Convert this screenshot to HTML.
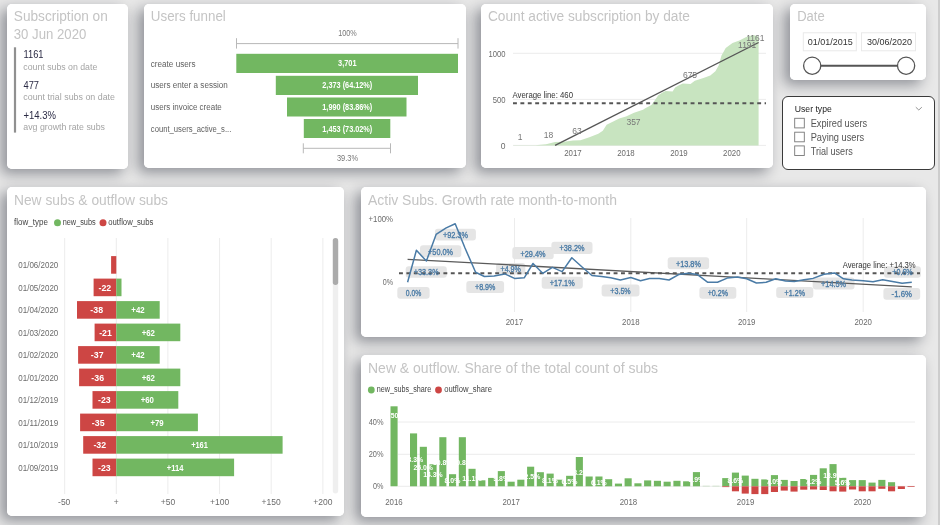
<!DOCTYPE html>
<html><head><meta charset="utf-8"><title>Dashboard</title>
<style>
html,body{margin:0;padding:0}
body{width:940px;height:525px;background:#e8e8e8;position:relative;overflow:hidden;font-family:"Liberation Sans",sans-serif}
.sh{position:absolute;background:#fff;border-radius:5px;box-shadow:-5.5px 5px 14px rgba(8,12,28,.39)}
.card{position:absolute;background:#fff;border-radius:5px}
.slicer{position:absolute;background:#fff;border-radius:6px;border:1.8px solid #3a3a3a;box-sizing:border-box}
svg text{font-family:"Liberation Sans",sans-serif}
</style></head><body>
<div class="sh" style="left:7px;top:3.6px;width:121px;height:165.4px"></div><div class="sh" style="left:144px;top:3.6px;width:322px;height:164.4px"></div><div class="sh" style="left:481.4px;top:3.6px;width:291.6px;height:164.4px"></div><div class="sh" style="left:790px;top:3.6px;width:136px;height:76.4px"></div><div class="sh" style="left:7px;top:187px;width:337px;height:329px"></div><div class="sh" style="left:361px;top:187px;width:564.8px;height:150px"></div><div class="sh" style="left:361px;top:355px;width:564.8px;height:161.5px"></div><div class="card" style="left:7px;top:3.6px;width:121px;height:165.4px"></div><div class="card" style="left:144px;top:3.6px;width:322px;height:164.4px"></div><div class="card" style="left:481.4px;top:3.6px;width:291.6px;height:164.4px"></div><div class="card" style="left:790px;top:3.6px;width:136px;height:76.4px"></div><div class="card" style="left:7px;top:187px;width:337px;height:329px"></div><div class="card" style="left:361px;top:187px;width:564.8px;height:150px"></div><div class="card" style="left:361px;top:355px;width:564.8px;height:161.5px"></div><div style="position:absolute;left:937.6px;top:0;width:2.4px;height:525px;background:#cdcdcd"></div><div class="slicer" style="left:782px;top:96px;width:153px;height:74px"></div>
<svg width="940" height="525" viewBox="0 0 940 525" style="position:absolute;left:0;top:0;filter:blur(0.3px)"><text x="13.8" y="20.8" font-size="14" fill="#c4c4c4" text-anchor="start" font-weight="normal" textLength="94" lengthAdjust="spacingAndGlyphs">Subscription on</text>
<text x="13.8" y="38.8" font-size="14" fill="#c4c4c4" text-anchor="start" font-weight="normal" textLength="72.5" lengthAdjust="spacingAndGlyphs">30 Jun 2020</text>
<rect x="13.9" y="47.3" width="2.2" height="85.3" fill="#909090"/>
<text x="23.5" y="58.1" font-size="10" fill="#2a2a44" text-anchor="start" font-weight="normal" textLength="20" lengthAdjust="spacingAndGlyphs">1161</text>
<text x="23.3" y="70.2" font-size="9.5" fill="#a4a4a4" text-anchor="start" font-weight="normal" textLength="74" lengthAdjust="spacingAndGlyphs">count subs on date</text>
<text x="23.5" y="88.6" font-size="10" fill="#2a2a44" text-anchor="start" font-weight="normal" textLength="15.5" lengthAdjust="spacingAndGlyphs">477</text>
<text x="23.3" y="100.2" font-size="9.5" fill="#a4a4a4" text-anchor="start" font-weight="normal" textLength="91.7" lengthAdjust="spacingAndGlyphs">count trial subs on date</text>
<text x="23.5" y="118.6" font-size="10" fill="#2a2a44" text-anchor="start" font-weight="normal" textLength="32.5" lengthAdjust="spacingAndGlyphs">+14.3%</text>
<text x="23.3" y="130.2" font-size="9.5" fill="#a4a4a4" text-anchor="start" font-weight="normal" textLength="81.7" lengthAdjust="spacingAndGlyphs">avg growth rate subs</text>
<text x="150.8" y="20.8" font-size="14" fill="#c4c4c4" text-anchor="start" font-weight="normal" textLength="75" lengthAdjust="spacingAndGlyphs">Users funnel</text>
<text x="150.8" y="67.4" font-size="8.5" fill="#606060" text-anchor="start" font-weight="normal" textLength="44.7" lengthAdjust="spacingAndGlyphs">create users</text>
<text x="150.8" y="87.9" font-size="8.5" fill="#606060" text-anchor="start" font-weight="normal" textLength="77" lengthAdjust="spacingAndGlyphs">users enter a session</text>
<text x="150.8" y="110.1" font-size="8.5" fill="#606060" text-anchor="start" font-weight="normal" textLength="71" lengthAdjust="spacingAndGlyphs">users invoice create</text>
<text x="150.8" y="132.4" font-size="8.5" fill="#606060" text-anchor="start" font-weight="normal" textLength="80.5" lengthAdjust="spacingAndGlyphs">count_users_active_s...</text>
<rect x="236.3" y="53.8" width="221.7" height="19.2" fill="#72b761"/>
<text x="347.3" y="66.4" font-size="9" fill="#fff" text-anchor="middle" font-weight="bold" textLength="18.5" lengthAdjust="spacingAndGlyphs">3,701</text>
<rect x="275.8" y="75.8" width="142.2" height="19.2" fill="#72b761"/>
<text x="347.3" y="88.4" font-size="9" fill="#fff" text-anchor="middle" font-weight="bold" textLength="50" lengthAdjust="spacingAndGlyphs">2,373 (64.12%)</text>
<rect x="287" y="97.5" width="119.5" height="19.0" fill="#72b761"/>
<text x="347.3" y="110.0" font-size="9" fill="#fff" text-anchor="middle" font-weight="bold" textLength="50" lengthAdjust="spacingAndGlyphs">1,990 (83.86%)</text>
<rect x="303.8" y="119" width="86.5" height="19.0" fill="#72b761"/>
<text x="347.3" y="131.5" font-size="9" fill="#fff" text-anchor="middle" font-weight="bold" textLength="50" lengthAdjust="spacingAndGlyphs">1,453 (73.02%)</text>
<path d="M236.5 38.2V48.6M236.5 43.6H458M458 38.2V48.6" stroke="#b8b8b8" stroke-width="1" fill="none"/>
<text x="347.5" y="36.4" font-size="8.5" fill="#777" text-anchor="middle" font-weight="normal" textLength="18.5" lengthAdjust="spacingAndGlyphs">100%</text>
<path d="M303.3 143.3V153.3M303.3 148.3H390.5M390.5 143.3V153.3" stroke="#b8b8b8" stroke-width="1" fill="none"/>
<text x="347.5" y="161.4" font-size="8.5" fill="#777" text-anchor="middle" font-weight="normal" textLength="21" lengthAdjust="spacingAndGlyphs">39.3%</text>
<text x="487.9" y="20.8" font-size="14" fill="#c4c4c4" text-anchor="start" font-weight="normal" textLength="202" lengthAdjust="spacingAndGlyphs">Count active subscription by date</text>
<line x1="513" x2="766" y1="53.3" y2="53.3" stroke="#ececec" stroke-width="1"/>
<line x1="513" x2="766" y1="99.4" y2="99.4" stroke="#ececec" stroke-width="1"/>
<line x1="513" x2="766" y1="145.4" y2="145.4" stroke="#ececec" stroke-width="1"/>
<text x="505.5" y="56.6" font-size="8.5" fill="#6b6b6b" text-anchor="end" font-weight="normal" textLength="17" lengthAdjust="spacingAndGlyphs">1000</text>
<text x="505.5" y="102.6" font-size="8.5" fill="#6b6b6b" text-anchor="end" font-weight="normal" textLength="12.8" lengthAdjust="spacingAndGlyphs">500</text>
<text x="505.5" y="148.6" font-size="8.5" fill="#6b6b6b" text-anchor="end" font-weight="normal">0</text>
<path d="M513.4,145.3 L535,145.2 L546,144.3 L555.1,142 L564,141.7 L573,140.5 L580.4,140.2 L589.4,137.2 L598.3,133.7 L602.8,130.7 L606.6,124.7 L613.2,121.5 L619.2,118.5 L626,116.4 L634,112.8 L643,109.8 L645.3,108.2 L651.4,105.1 L655.2,99.8 L658.3,95.2 L662.1,92.8 L665.7,91 L672.6,91.5 L675.1,87.5 L679,85.2 L682.8,83.6 L690.5,84.1 L694.8,80.7 L703.4,78.1 L710.3,75.5 L715.4,71.3 L718.8,65.3 L721.4,55.8 L725.7,48.1 L732.5,43 L739.4,40.4 L746.2,37 L753.1,34.9 L758.6,36.5 L758.6,145.4 L513.4,145.4Z" fill="#c8e4c0"/>
<line x1="555.1" y1="145.3" x2="758.6" y2="42.5" stroke="#555" stroke-width="1.4"/>
<line x1="513" y1="103.3" x2="766" y2="103.3" stroke="#555" stroke-width="2.0" stroke-dasharray="3.9 3.5"/>
<text x="512.5" y="98.2" font-size="9.5" fill="#333" text-anchor="start" font-weight="normal" textLength="60.5" lengthAdjust="spacingAndGlyphs">Average line: 460</text>
<text x="520.0" y="139.7" font-size="8.5" fill="#777" text-anchor="middle" font-weight="normal">1</text>
<text x="548.6" y="138.3" font-size="8.5" fill="#777" text-anchor="middle" font-weight="normal">18</text>
<text x="576.9" y="134.4" font-size="8.5" fill="#777" text-anchor="middle" font-weight="normal">63</text>
<text x="633.5" y="125.4" font-size="8.5" fill="#777" text-anchor="middle" font-weight="normal">357</text>
<text x="690.0" y="78.4" font-size="8.5" fill="#777" text-anchor="middle" font-weight="normal">675</text>
<text x="747.2" y="48.0" font-size="8.5" fill="#777" text-anchor="middle" font-weight="normal">1191</text>
<text x="755.3" y="41.1" font-size="8.5" fill="#777" text-anchor="middle" font-weight="normal">1161</text>
<text x="573.0" y="156.4" font-size="8.5" fill="#6b6b6b" text-anchor="middle" font-weight="normal" textLength="17.5" lengthAdjust="spacingAndGlyphs">2017</text>
<text x="626.0" y="156.4" font-size="8.5" fill="#6b6b6b" text-anchor="middle" font-weight="normal" textLength="17.5" lengthAdjust="spacingAndGlyphs">2018</text>
<text x="679.0" y="156.4" font-size="8.5" fill="#6b6b6b" text-anchor="middle" font-weight="normal" textLength="17.5" lengthAdjust="spacingAndGlyphs">2019</text>
<text x="731.8" y="156.4" font-size="8.5" fill="#6b6b6b" text-anchor="middle" font-weight="normal" textLength="17.5" lengthAdjust="spacingAndGlyphs">2020</text>
<text x="797.2" y="20.8" font-size="14" fill="#c4c4c4" text-anchor="start" font-weight="normal" textLength="27.5" lengthAdjust="spacingAndGlyphs">Date</text>
<rect x="803.3" y="32.8" width="53" height="18" fill="#fff" stroke="#e9e9e9" stroke-width="1"/>
<rect x="861.5" y="32.8" width="54" height="18" fill="#fff" stroke="#e9e9e9" stroke-width="1"/>
<text x="807.7" y="45.2" font-size="9" fill="#333" text-anchor="start" font-weight="normal" textLength="45" lengthAdjust="spacingAndGlyphs">01/01/2015</text>
<text x="866.9" y="45.2" font-size="9" fill="#333" text-anchor="start" font-weight="normal" textLength="45" lengthAdjust="spacingAndGlyphs">30/06/2020</text>
<line x1="812" y1="65.7" x2="906" y2="65.7" stroke="#555" stroke-width="1.9"/>
<circle cx="812.2" cy="65.7" r="8.6" fill="#fff" stroke="#555" stroke-width="1.3"/>
<circle cx="906.1" cy="65.7" r="8.6" fill="#fff" stroke="#555" stroke-width="1.3"/>
<text x="794.8" y="111.7" font-size="9" fill="#222" text-anchor="start" font-weight="normal" textLength="37" lengthAdjust="spacingAndGlyphs">User type</text>
<path d="M915.8 107.2 L918.8 110 L921.8 107.2" stroke="#888" stroke-width="0.9" fill="none"/>
<rect x="794.7" y="118.3" width="9.6" height="9.6" fill="#fff" stroke="#777" stroke-width="0.9"/>
<text x="810.7" y="127.2" font-size="10" fill="#555" text-anchor="start" font-weight="normal" textLength="56.5" lengthAdjust="spacingAndGlyphs">Expired users</text>
<rect x="794.7" y="132.2" width="9.6" height="9.6" fill="#fff" stroke="#777" stroke-width="0.9"/>
<text x="810.7" y="141.1" font-size="10" fill="#555" text-anchor="start" font-weight="normal" textLength="53.5" lengthAdjust="spacingAndGlyphs">Paying users</text>
<rect x="794.7" y="145.9" width="9.6" height="9.6" fill="#fff" stroke="#777" stroke-width="0.9"/>
<text x="810.7" y="154.8" font-size="10" fill="#555" text-anchor="start" font-weight="normal" textLength="42" lengthAdjust="spacingAndGlyphs">Trial users</text>
<text x="14.0" y="205.2" font-size="14" fill="#c4c4c4" text-anchor="start" font-weight="normal" textLength="154" lengthAdjust="spacingAndGlyphs">New subs &amp; outflow subs</text>
<text x="14.1" y="225.4" font-size="8.5" fill="#444" text-anchor="start" font-weight="normal" textLength="33.8" lengthAdjust="spacingAndGlyphs">flow_type</text>
<circle cx="57.5" cy="222.7" r="3.5" fill="#72b761"/>
<text x="62.7" y="225.4" font-size="8.5" fill="#444" text-anchor="start" font-weight="normal" textLength="33" lengthAdjust="spacingAndGlyphs">new_subs</text>
<circle cx="103" cy="222.7" r="3.5" fill="#cd4644"/>
<text x="108.3" y="225.4" font-size="8.5" fill="#444" text-anchor="start" font-weight="normal" textLength="45" lengthAdjust="spacingAndGlyphs">outflow_subs</text>
<line x1="64.7" x2="64.7" y1="238" y2="494" stroke="#ececec" stroke-width="1"/>
<text x="64.2" y="505.4" font-size="8.5" fill="#6b6b6b" text-anchor="middle" font-weight="normal">-50</text>
<line x1="116.3" x2="116.3" y1="238" y2="494" stroke="#ececec" stroke-width="1"/>
<text x="116.3" y="505.4" font-size="8.5" fill="#6b6b6b" text-anchor="middle" font-weight="normal">+</text>
<line x1="167.9" x2="167.9" y1="238" y2="494" stroke="#ececec" stroke-width="1"/>
<text x="167.9" y="505.4" font-size="8.5" fill="#6b6b6b" text-anchor="middle" font-weight="normal">+50</text>
<line x1="219.6" x2="219.6" y1="238" y2="494" stroke="#ececec" stroke-width="1"/>
<text x="219.6" y="505.4" font-size="8.5" fill="#6b6b6b" text-anchor="middle" font-weight="normal">+100</text>
<line x1="271.2" x2="271.2" y1="238" y2="494" stroke="#ececec" stroke-width="1"/>
<text x="271.2" y="505.4" font-size="8.5" fill="#6b6b6b" text-anchor="middle" font-weight="normal">+150</text>
<line x1="322.9" x2="322.9" y1="238" y2="494" stroke="#ececec" stroke-width="1"/>
<text x="322.9" y="505.4" font-size="8.5" fill="#6b6b6b" text-anchor="middle" font-weight="normal">+200</text>
<text x="18.3" y="268.1" font-size="9" fill="#6b6b6b" text-anchor="start" font-weight="normal" textLength="40" lengthAdjust="spacingAndGlyphs">01/06/2020</text>
<rect x="111.1" y="256.1" width="5.2" height="17.6" fill="#cd4644"/>
<text x="18.3" y="290.6" font-size="9" fill="#6b6b6b" text-anchor="start" font-weight="normal" textLength="40" lengthAdjust="spacingAndGlyphs">01/05/2020</text>
<rect x="93.6" y="278.6" width="22.7" height="17.6" fill="#cd4644"/>
<text x="104.9" y="290.8" font-size="9" fill="#fff" text-anchor="middle" font-weight="bold" textLength="12.7" lengthAdjust="spacingAndGlyphs">-22</text>
<rect x="116.3" y="278.6" width="5.2" height="17.6" fill="#72b761"/>
<text x="18.3" y="313.1" font-size="9" fill="#6b6b6b" text-anchor="start" font-weight="normal" textLength="40" lengthAdjust="spacingAndGlyphs">01/04/2020</text>
<rect x="77.0" y="301.1" width="39.3" height="17.6" fill="#cd4644"/>
<text x="96.7" y="313.3" font-size="9" fill="#fff" text-anchor="middle" font-weight="bold" textLength="12.7" lengthAdjust="spacingAndGlyphs">-38</text>
<rect x="116.3" y="301.1" width="43.4" height="17.6" fill="#72b761"/>
<text x="138.0" y="313.3" font-size="9" fill="#fff" text-anchor="middle" font-weight="bold" textLength="13.3" lengthAdjust="spacingAndGlyphs">+42</text>
<text x="18.3" y="335.6" font-size="9" fill="#6b6b6b" text-anchor="start" font-weight="normal" textLength="40" lengthAdjust="spacingAndGlyphs">01/03/2020</text>
<rect x="94.6" y="323.6" width="21.7" height="17.6" fill="#cd4644"/>
<text x="105.5" y="335.8" font-size="9" fill="#fff" text-anchor="middle" font-weight="bold" textLength="12.7" lengthAdjust="spacingAndGlyphs">-21</text>
<rect x="116.3" y="323.6" width="64.0" height="17.6" fill="#72b761"/>
<text x="148.3" y="335.8" font-size="9" fill="#fff" text-anchor="middle" font-weight="bold" textLength="13.3" lengthAdjust="spacingAndGlyphs">+62</text>
<text x="18.3" y="358.1" font-size="9" fill="#6b6b6b" text-anchor="start" font-weight="normal" textLength="40" lengthAdjust="spacingAndGlyphs">01/02/2020</text>
<rect x="78.1" y="346.1" width="38.2" height="17.6" fill="#cd4644"/>
<text x="97.2" y="358.3" font-size="9" fill="#fff" text-anchor="middle" font-weight="bold" textLength="12.7" lengthAdjust="spacingAndGlyphs">-37</text>
<rect x="116.3" y="346.1" width="43.4" height="17.6" fill="#72b761"/>
<text x="138.0" y="358.3" font-size="9" fill="#fff" text-anchor="middle" font-weight="bold" textLength="13.3" lengthAdjust="spacingAndGlyphs">+42</text>
<text x="18.3" y="380.6" font-size="9" fill="#6b6b6b" text-anchor="start" font-weight="normal" textLength="40" lengthAdjust="spacingAndGlyphs">01/01/2020</text>
<rect x="79.1" y="368.6" width="37.2" height="17.6" fill="#cd4644"/>
<text x="97.7" y="380.8" font-size="9" fill="#fff" text-anchor="middle" font-weight="bold" textLength="12.7" lengthAdjust="spacingAndGlyphs">-36</text>
<rect x="116.3" y="368.6" width="64.0" height="17.6" fill="#72b761"/>
<text x="148.3" y="380.8" font-size="9" fill="#fff" text-anchor="middle" font-weight="bold" textLength="13.3" lengthAdjust="spacingAndGlyphs">+62</text>
<text x="18.3" y="403.1" font-size="9" fill="#6b6b6b" text-anchor="start" font-weight="normal" textLength="40" lengthAdjust="spacingAndGlyphs">01/12/2019</text>
<rect x="92.5" y="391.1" width="23.8" height="17.6" fill="#cd4644"/>
<text x="104.4" y="403.3" font-size="9" fill="#fff" text-anchor="middle" font-weight="bold" textLength="12.7" lengthAdjust="spacingAndGlyphs">-23</text>
<rect x="116.3" y="391.1" width="62.0" height="17.6" fill="#72b761"/>
<text x="147.3" y="403.3" font-size="9" fill="#fff" text-anchor="middle" font-weight="bold" textLength="13.3" lengthAdjust="spacingAndGlyphs">+60</text>
<text x="18.3" y="425.6" font-size="9" fill="#6b6b6b" text-anchor="start" font-weight="normal" textLength="40" lengthAdjust="spacingAndGlyphs">01/11/2019</text>
<rect x="80.1" y="413.6" width="36.2" height="17.6" fill="#cd4644"/>
<text x="98.2" y="425.8" font-size="9" fill="#fff" text-anchor="middle" font-weight="bold" textLength="12.7" lengthAdjust="spacingAndGlyphs">-35</text>
<rect x="116.3" y="413.6" width="81.6" height="17.6" fill="#72b761"/>
<text x="157.1" y="425.8" font-size="9" fill="#fff" text-anchor="middle" font-weight="bold" textLength="13.3" lengthAdjust="spacingAndGlyphs">+79</text>
<text x="18.3" y="448.1" font-size="9" fill="#6b6b6b" text-anchor="start" font-weight="normal" textLength="40" lengthAdjust="spacingAndGlyphs">01/10/2019</text>
<rect x="83.2" y="436.1" width="33.1" height="17.6" fill="#cd4644"/>
<text x="99.8" y="448.3" font-size="9" fill="#fff" text-anchor="middle" font-weight="bold" textLength="12.7" lengthAdjust="spacingAndGlyphs">-32</text>
<rect x="116.3" y="436.1" width="166.3" height="17.6" fill="#72b761"/>
<text x="199.5" y="448.3" font-size="9" fill="#fff" text-anchor="middle" font-weight="bold" textLength="16.7" lengthAdjust="spacingAndGlyphs">+161</text>
<text x="18.3" y="470.6" font-size="9" fill="#6b6b6b" text-anchor="start" font-weight="normal" textLength="40" lengthAdjust="spacingAndGlyphs">01/09/2019</text>
<rect x="92.5" y="458.6" width="23.8" height="17.6" fill="#cd4644"/>
<text x="104.4" y="470.8" font-size="9" fill="#fff" text-anchor="middle" font-weight="bold" textLength="12.7" lengthAdjust="spacingAndGlyphs">-23</text>
<rect x="116.3" y="458.6" width="117.8" height="17.6" fill="#72b761"/>
<text x="175.2" y="470.8" font-size="9" fill="#fff" text-anchor="middle" font-weight="bold" textLength="16.7" lengthAdjust="spacingAndGlyphs">+114</text>
<rect x="332.8" y="238" width="5.4" height="255.5" rx="2.7" fill="#efefef"/>
<rect x="332.8" y="238" width="5.4" height="47" rx="2.7" fill="#ababab"/>
<text x="368.0" y="204.7" font-size="14" fill="#c4c4c4" text-anchor="start" font-weight="normal" textLength="249" lengthAdjust="spacingAndGlyphs">Activ Subs. Growth rate month-to-month</text>
<text x="393.0" y="222.0" font-size="8.5" fill="#6b6b6b" text-anchor="end" font-weight="normal" textLength="24.5" lengthAdjust="spacingAndGlyphs">+100%</text>
<text x="393.0" y="284.5" font-size="8.5" fill="#6b6b6b" text-anchor="end" font-weight="normal" textLength="10.3" lengthAdjust="spacingAndGlyphs">0%</text>
<line x1="514.5" x2="514.5" y1="218" y2="312" stroke="#ececec" stroke-width="1"/>
<text x="514.5" y="324.6" font-size="8.5" fill="#6b6b6b" text-anchor="middle" font-weight="normal" textLength="17.5" lengthAdjust="spacingAndGlyphs">2017</text>
<line x1="630.8" x2="630.8" y1="218" y2="312" stroke="#ececec" stroke-width="1"/>
<text x="630.8" y="324.6" font-size="8.5" fill="#6b6b6b" text-anchor="middle" font-weight="normal" textLength="17.5" lengthAdjust="spacingAndGlyphs">2018</text>
<line x1="746.7" x2="746.7" y1="218" y2="312" stroke="#ececec" stroke-width="1"/>
<text x="746.7" y="324.6" font-size="8.5" fill="#6b6b6b" text-anchor="middle" font-weight="normal" textLength="17.5" lengthAdjust="spacingAndGlyphs">2019</text>
<line x1="863.2" x2="863.2" y1="218" y2="312" stroke="#ececec" stroke-width="1"/>
<text x="863.2" y="324.6" font-size="8.5" fill="#6b6b6b" text-anchor="middle" font-weight="normal" textLength="17.5" lengthAdjust="spacingAndGlyphs">2020</text>
<rect x="397.3" y="287.0" width="32.3" height="11.7" rx="3" fill="#e5e5e5"/>
<rect x="405.7" y="266.3" width="41.1" height="11.4" rx="3" fill="#e5e5e5"/>
<rect x="420.0" y="245.2" width="41.3" height="12.0" rx="3" fill="#e5e5e5"/>
<rect x="434.9" y="228.7" width="41.0" height="11.7" rx="3" fill="#e5e5e5"/>
<rect x="466.3" y="280.9" width="37.8" height="12.0" rx="3" fill="#e5e5e5"/>
<rect x="496.1" y="263.0" width="29.2" height="11.5" rx="3" fill="#e5e5e5"/>
<rect x="512.3" y="246.9" width="41.4" height="12.3" rx="3" fill="#e5e5e5"/>
<rect x="551.4" y="241.7" width="41.1" height="12.3" rx="3" fill="#e5e5e5"/>
<rect x="541.7" y="276.7" width="41.1" height="12.0" rx="3" fill="#e5e5e5"/>
<rect x="601.6" y="284.4" width="37.9" height="12.0" rx="3" fill="#e5e5e5"/>
<rect x="667.7" y="257.2" width="41.4" height="12.0" rx="3" fill="#e5e5e5"/>
<rect x="699.4" y="287.0" width="36.9" height="11.7" rx="3" fill="#e5e5e5"/>
<rect x="776.2" y="287.0" width="37.1" height="11.0" rx="3" fill="#e5e5e5"/>
<rect x="812.7" y="277.6" width="41.8" height="12.0" rx="3" fill="#e5e5e5"/>
<rect x="884.0" y="266.3" width="36.9" height="11.4" rx="3" fill="#e5e5e5"/>
<rect x="883.4" y="288.0" width="36.8" height="11.7" rx="3" fill="#e5e5e5"/>
<line x1="407.6" y1="259.3" x2="911.8" y2="286.9" stroke="#5a5a5a" stroke-width="1.3"/>
<line x1="399" y1="273.3" x2="920" y2="273.3" stroke="#555" stroke-width="2.0" stroke-dasharray="3.9 3.5"/>
<polyline points="407.6,282.3 416.4,250.3 426.4,261 436.1,234.4 446.2,227.9 455.2,223.7 465,248 475.6,272.3 484.4,276.5 494.1,275.9 504.8,273.9 514.5,278.4 524.2,277.8 533,263.5 542.7,273.3 552.4,267.4 562.1,271.6 571.8,257.7 581.5,266.5 591.9,275.5 601.6,276.5 610.7,277.8 620.4,280 630.8,277.5 640.5,280.7 649.5,278.4 659.2,278.4 669,280 678.7,274.6 688.4,273.3 697.5,274.6 707.8,282.3 717.5,282.3 727.2,278.1 737.6,277.1 746.7,278.8 756.4,283 766.1,282.3 775.8,278.8 785.5,281 794.3,281.4 804,279.7 813,278.4 824,274.3 834.5,272.9 843.5,278.8 851.9,280 863.2,280.7 873,281.7 882.7,279.7 892.4,281.4 902.1,283.3 911.8,282.3" fill="none" stroke="#4a7ba6" stroke-width="1.5" stroke-linejoin="round"/>
<text x="413.5" y="296.3" font-size="9" fill="#4a7ba6" text-anchor="middle" font-weight="normal" textLength="15.5" lengthAdjust="spacingAndGlyphs" stroke="#4a7ba6" stroke-width="0.35">0.0%</text>
<text x="426.2" y="275.4" font-size="9" fill="#4a7ba6" text-anchor="middle" font-weight="normal" textLength="25" lengthAdjust="spacingAndGlyphs" stroke="#4a7ba6" stroke-width="0.35">+33.3%</text>
<text x="440.6" y="254.6" font-size="9" fill="#4a7ba6" text-anchor="middle" font-weight="normal" textLength="25" lengthAdjust="spacingAndGlyphs" stroke="#4a7ba6" stroke-width="0.35">+50.0%</text>
<text x="455.4" y="238.0" font-size="9" fill="#4a7ba6" text-anchor="middle" font-weight="normal" textLength="25" lengthAdjust="spacingAndGlyphs" stroke="#4a7ba6" stroke-width="0.35">+92.3%</text>
<text x="485.2" y="290.3" font-size="9" fill="#4a7ba6" text-anchor="middle" font-weight="normal" textLength="20.4" lengthAdjust="spacingAndGlyphs" stroke="#4a7ba6" stroke-width="0.35">+8.9%</text>
<text x="510.7" y="272.2" font-size="9" fill="#4a7ba6" text-anchor="middle" font-weight="normal" textLength="20.4" lengthAdjust="spacingAndGlyphs" stroke="#4a7ba6" stroke-width="0.35">+4.9%</text>
<text x="533.0" y="256.5" font-size="9" fill="#4a7ba6" text-anchor="middle" font-weight="normal" textLength="25" lengthAdjust="spacingAndGlyphs" stroke="#4a7ba6" stroke-width="0.35">+29.4%</text>
<text x="572.0" y="251.3" font-size="9" fill="#4a7ba6" text-anchor="middle" font-weight="normal" textLength="25" lengthAdjust="spacingAndGlyphs" stroke="#4a7ba6" stroke-width="0.35">+38.2%</text>
<text x="562.2" y="286.1" font-size="9" fill="#4a7ba6" text-anchor="middle" font-weight="normal" textLength="25" lengthAdjust="spacingAndGlyphs" stroke="#4a7ba6" stroke-width="0.35">+17.1%</text>
<text x="620.5" y="293.8" font-size="9" fill="#4a7ba6" text-anchor="middle" font-weight="normal" textLength="20.4" lengthAdjust="spacingAndGlyphs" stroke="#4a7ba6" stroke-width="0.35">+3.5%</text>
<text x="688.4" y="266.6" font-size="9" fill="#4a7ba6" text-anchor="middle" font-weight="normal" textLength="25" lengthAdjust="spacingAndGlyphs" stroke="#4a7ba6" stroke-width="0.35">+13.8%</text>
<text x="717.9" y="296.3" font-size="9" fill="#4a7ba6" text-anchor="middle" font-weight="normal" textLength="20.4" lengthAdjust="spacingAndGlyphs" stroke="#4a7ba6" stroke-width="0.35">+0.2%</text>
<text x="794.8" y="295.9" font-size="9" fill="#4a7ba6" text-anchor="middle" font-weight="normal" textLength="20.4" lengthAdjust="spacingAndGlyphs" stroke="#4a7ba6" stroke-width="0.35">+1.2%</text>
<text x="833.6" y="287.0" font-size="9" fill="#4a7ba6" text-anchor="middle" font-weight="normal" textLength="25" lengthAdjust="spacingAndGlyphs" stroke="#4a7ba6" stroke-width="0.35">+14.5%</text>
<text x="902.5" y="275.4" font-size="9" fill="#4a7ba6" text-anchor="middle" font-weight="normal" textLength="20.4" lengthAdjust="spacingAndGlyphs" stroke="#4a7ba6" stroke-width="0.35">+0.6%</text>
<text x="901.8" y="297.3" font-size="9" fill="#4a7ba6" text-anchor="middle" font-weight="normal" textLength="20.4" lengthAdjust="spacingAndGlyphs" stroke="#4a7ba6" stroke-width="0.35">-1.6%</text>
<text x="915.7" y="267.7" font-size="9.5" fill="#333" text-anchor="end" font-weight="normal" textLength="73" lengthAdjust="spacingAndGlyphs">Average line: +14.3%</text>
<text x="368.0" y="372.5" font-size="14" fill="#c4c4c4" text-anchor="start" font-weight="normal" textLength="290" lengthAdjust="spacingAndGlyphs">New &amp; outflow. Share of the total count of subs</text>
<circle cx="371.3" cy="390" r="3.4" fill="#72b761"/>
<text x="376.7" y="392.3" font-size="8.5" fill="#444" text-anchor="start" font-weight="normal" textLength="54.6" lengthAdjust="spacingAndGlyphs">new_subs_share</text>
<circle cx="438.5" cy="390" r="3.4" fill="#cd4644"/>
<text x="444.2" y="392.3" font-size="8.5" fill="#444" text-anchor="start" font-weight="normal" textLength="47.7" lengthAdjust="spacingAndGlyphs">outflow_share</text>
<line x1="398" x2="915" y1="422" y2="422" stroke="#ececec" stroke-width="1"/>
<text x="383.5" y="424.9" font-size="8.5" fill="#6b6b6b" text-anchor="end" font-weight="normal" textLength="14.8" lengthAdjust="spacingAndGlyphs">40%</text>
<line x1="398" x2="915" y1="454.3" y2="454.3" stroke="#ececec" stroke-width="1"/>
<text x="383.5" y="457.2" font-size="8.5" fill="#6b6b6b" text-anchor="end" font-weight="normal" textLength="14.8" lengthAdjust="spacingAndGlyphs">20%</text>
<line x1="398" x2="915" y1="486.3" y2="486.3" stroke="#ececec" stroke-width="1"/>
<text x="383.5" y="489.2" font-size="8.5" fill="#6b6b6b" text-anchor="end" font-weight="normal" textLength="10.5" lengthAdjust="spacingAndGlyphs">0%</text>
<text x="393.9" y="505.4" font-size="8.5" fill="#6b6b6b" text-anchor="middle" font-weight="normal" textLength="17.5" lengthAdjust="spacingAndGlyphs">2016</text>
<text x="511.2" y="505.4" font-size="8.5" fill="#6b6b6b" text-anchor="middle" font-weight="normal" textLength="17.5" lengthAdjust="spacingAndGlyphs">2017</text>
<text x="628.4" y="505.4" font-size="8.5" fill="#6b6b6b" text-anchor="middle" font-weight="normal" textLength="17.5" lengthAdjust="spacingAndGlyphs">2018</text>
<text x="745.6" y="505.4" font-size="8.5" fill="#6b6b6b" text-anchor="middle" font-weight="normal" textLength="17.5" lengthAdjust="spacingAndGlyphs">2019</text>
<text x="862.4" y="505.4" font-size="8.5" fill="#6b6b6b" text-anchor="middle" font-weight="normal" textLength="17.5" lengthAdjust="spacingAndGlyphs">2020</text>
<rect x="390.5" y="406.3" width="7.1" height="80.0" fill="#72b761"/>
<rect x="410.0" y="433.4" width="7.1" height="52.9" fill="#72b761"/>
<rect x="419.8" y="446.8" width="7.1" height="39.5" fill="#72b761"/>
<rect x="429.5" y="464.3" width="7.1" height="22.0" fill="#72b761"/>
<rect x="439.3" y="437.2" width="7.1" height="49.1" fill="#72b761"/>
<rect x="449.0" y="474.2" width="7.1" height="12.1" fill="#72b761"/>
<rect x="458.8" y="437.2" width="7.1" height="49.1" fill="#72b761"/>
<rect x="468.5" y="468.8" width="7.1" height="17.5" fill="#72b761"/>
<rect x="478.3" y="480.3" width="7.1" height="6.0" fill="#72b761"/>
<rect x="488.1" y="477.9" width="7.1" height="8.4" fill="#72b761"/>
<rect x="497.8" y="471.1" width="7.1" height="15.2" fill="#72b761"/>
<rect x="507.6" y="481.7" width="7.1" height="4.6" fill="#72b761"/>
<rect x="517.3" y="479.7" width="7.1" height="6.6" fill="#72b761"/>
<rect x="527.1" y="466.7" width="7.1" height="19.6" fill="#72b761"/>
<rect x="536.8" y="472.2" width="7.1" height="14.1" fill="#72b761"/>
<rect x="546.6" y="473.6" width="7.1" height="12.7" fill="#72b761"/>
<rect x="556.3" y="479.7" width="7.1" height="6.6" fill="#72b761"/>
<rect x="566.1" y="475.8" width="7.1" height="10.5" fill="#72b761"/>
<rect x="575.8" y="457.0" width="7.1" height="29.3" fill="#72b761"/>
<rect x="585.6" y="476.5" width="7.1" height="9.8" fill="#72b761"/>
<rect x="595.4" y="476.5" width="7.1" height="9.8" fill="#72b761"/>
<rect x="605.1" y="479.2" width="7.1" height="7.1" fill="#72b761"/>
<rect x="614.9" y="483.6" width="7.1" height="2.7" fill="#72b761"/>
<rect x="624.6" y="478.3" width="7.1" height="8.0" fill="#72b761"/>
<rect x="634.4" y="483.3" width="7.1" height="3.0" fill="#72b761"/>
<rect x="644.1" y="480.4" width="7.1" height="5.9" fill="#72b761"/>
<rect x="653.9" y="480.8" width="7.1" height="5.5" fill="#72b761"/>
<rect x="663.6" y="481.7" width="7.1" height="4.6" fill="#72b761"/>
<rect x="673.4" y="480.8" width="7.1" height="5.5" fill="#72b761"/>
<rect x="683.1" y="481.3" width="7.1" height="5.0" fill="#72b761"/>
<rect x="692.9" y="472.1" width="7.1" height="14.2" fill="#72b761"/>
<rect x="702.7" y="485.8" width="7.1" height="0.5" fill="#72b761" opacity="0.45"/>
<rect x="712.4" y="485.8" width="7.1" height="0.5" fill="#72b761" opacity="0.45"/>
<rect x="722.2" y="478.1" width="7.1" height="8.2" fill="#72b761"/>
<rect x="722.2" y="486.3" width="7.1" height="0.8" fill="#cd4644"/>
<rect x="731.9" y="472.6" width="7.1" height="13.7" fill="#72b761"/>
<rect x="731.9" y="486.3" width="7.1" height="5.0" fill="#cd4644"/>
<rect x="741.7" y="475.6" width="7.1" height="10.7" fill="#72b761"/>
<rect x="741.7" y="486.3" width="7.1" height="7.3" fill="#cd4644"/>
<rect x="751.4" y="478.8" width="7.1" height="7.5" fill="#72b761"/>
<rect x="751.4" y="486.3" width="7.1" height="7.8" fill="#cd4644"/>
<rect x="761.2" y="479.4" width="7.1" height="6.9" fill="#72b761"/>
<rect x="761.2" y="486.3" width="7.1" height="7.8" fill="#cd4644"/>
<rect x="770.9" y="475.1" width="7.1" height="11.2" fill="#72b761"/>
<rect x="770.9" y="486.3" width="7.1" height="5.7" fill="#cd4644"/>
<rect x="780.7" y="479.9" width="7.1" height="6.4" fill="#72b761"/>
<rect x="780.7" y="486.3" width="7.1" height="4.3" fill="#cd4644"/>
<rect x="790.5" y="481.0" width="7.1" height="5.3" fill="#72b761"/>
<rect x="790.5" y="486.3" width="7.1" height="5.3" fill="#cd4644"/>
<rect x="800.2" y="479.0" width="7.1" height="7.3" fill="#72b761"/>
<rect x="800.2" y="486.3" width="7.1" height="3.4" fill="#cd4644"/>
<rect x="810.0" y="474.9" width="7.1" height="11.4" fill="#72b761"/>
<rect x="810.0" y="486.3" width="7.1" height="3.2" fill="#cd4644"/>
<rect x="819.7" y="468.3" width="7.1" height="18.0" fill="#72b761"/>
<rect x="819.7" y="486.3" width="7.1" height="3.7" fill="#cd4644"/>
<rect x="829.5" y="464.1" width="7.1" height="22.2" fill="#72b761"/>
<rect x="829.5" y="486.3" width="7.1" height="5.0" fill="#cd4644"/>
<rect x="839.2" y="477.8" width="7.1" height="8.5" fill="#72b761"/>
<rect x="839.2" y="486.3" width="7.1" height="5.3" fill="#cd4644"/>
<rect x="849.0" y="480.1" width="7.1" height="6.2" fill="#72b761"/>
<rect x="849.0" y="486.3" width="7.1" height="3.2" fill="#cd4644"/>
<rect x="858.7" y="480.1" width="7.1" height="6.2" fill="#72b761"/>
<rect x="858.7" y="486.3" width="7.1" height="5.0" fill="#cd4644"/>
<rect x="868.5" y="482.6" width="7.1" height="3.7" fill="#72b761"/>
<rect x="868.5" y="486.3" width="7.1" height="5.0" fill="#cd4644"/>
<rect x="878.3" y="479.9" width="7.1" height="6.4" fill="#72b761"/>
<rect x="878.3" y="486.3" width="7.1" height="2.5" fill="#cd4644"/>
<rect x="888.0" y="482.2" width="7.1" height="4.1" fill="#72b761"/>
<rect x="888.0" y="486.3" width="7.1" height="5.0" fill="#cd4644"/>
<rect x="897.8" y="486.3" width="7.1" height="2.7" fill="#cd4644"/>
<rect x="907.5" y="486.3" width="7.1" height="0.7" fill="#cd4644"/>
<text x="390.7" y="418.1" font-size="7.5" fill="#fff" text-anchor="start" font-weight="bold" textLength="19.5" lengthAdjust="spacingAndGlyphs">50.0%</text>
<text x="413.4" y="462.4" font-size="7.5" fill="#fff" text-anchor="middle" font-weight="bold" textLength="19.5" lengthAdjust="spacingAndGlyphs">33.3%</text>
<text x="423.2" y="469.7" font-size="7.5" fill="#fff" text-anchor="middle" font-weight="bold" textLength="19.5" lengthAdjust="spacingAndGlyphs">25.0%</text>
<text x="432.9" y="477.3" font-size="7.5" fill="#fff" text-anchor="middle" font-weight="bold" textLength="19.5" lengthAdjust="spacingAndGlyphs">14.3%</text>
<text x="442.7" y="464.8" font-size="7.5" fill="#fff" text-anchor="middle" font-weight="bold" textLength="19.5" lengthAdjust="spacingAndGlyphs">30.8%</text>
<text x="452.4" y="483.2" font-size="7.5" fill="#fff" text-anchor="middle" font-weight="bold" textLength="15.8" lengthAdjust="spacingAndGlyphs">8.0%</text>
<text x="462.2" y="464.8" font-size="7.5" fill="#fff" text-anchor="middle" font-weight="bold" textLength="19.5" lengthAdjust="spacingAndGlyphs">30.8%</text>
<text x="471.9" y="480.5" font-size="7.5" fill="#fff" text-anchor="middle" font-weight="bold" textLength="19.5" lengthAdjust="spacingAndGlyphs">11.1%</text>
<text x="501.2" y="481.0" font-size="7.5" fill="#fff" text-anchor="middle" font-weight="bold" textLength="15.8" lengthAdjust="spacingAndGlyphs">9.8%</text>
<text x="530.5" y="479.1" font-size="7.5" fill="#fff" text-anchor="middle" font-weight="bold" textLength="19.5" lengthAdjust="spacingAndGlyphs">12.5%</text>
<text x="550.0" y="483.3" font-size="7.5" fill="#fff" text-anchor="middle" font-weight="bold" textLength="15.8" lengthAdjust="spacingAndGlyphs">8.1%</text>
<text x="569.5" y="484.2" font-size="7.5" fill="#fff" text-anchor="middle" font-weight="bold" textLength="15.8" lengthAdjust="spacingAndGlyphs">6.5%</text>
<text x="579.2" y="474.6" font-size="7.5" fill="#fff" text-anchor="middle" font-weight="bold" textLength="19.5" lengthAdjust="spacingAndGlyphs">18.2%</text>
<text x="598.8" y="484.8" font-size="7.5" fill="#fff" text-anchor="middle" font-weight="bold" textLength="15.8" lengthAdjust="spacingAndGlyphs">6.1%</text>
<text x="696.3" y="482.3" font-size="7.5" fill="#fff" text-anchor="middle" font-weight="bold" textLength="15.8" lengthAdjust="spacingAndGlyphs">8.9%</text>
<text x="735.3" y="482.9" font-size="7.5" fill="#fff" text-anchor="middle" font-weight="bold" textLength="15.8" lengthAdjust="spacingAndGlyphs">8.6%</text>
<text x="774.3" y="484.2" font-size="7.5" fill="#fff" text-anchor="middle" font-weight="bold" textLength="15.8" lengthAdjust="spacingAndGlyphs">7.0%</text>
<text x="813.4" y="483.7" font-size="7.5" fill="#fff" text-anchor="middle" font-weight="bold" textLength="15.8" lengthAdjust="spacingAndGlyphs">7.2%</text>
<text x="832.9" y="477.7" font-size="7.5" fill="#fff" text-anchor="middle" font-weight="bold" textLength="19.5" lengthAdjust="spacingAndGlyphs">13.9%</text>
<text x="842.6" y="484.7" font-size="7.5" fill="#fff" text-anchor="middle" font-weight="bold" textLength="15.8" lengthAdjust="spacingAndGlyphs">5.6%</text></svg>
</body></html>
